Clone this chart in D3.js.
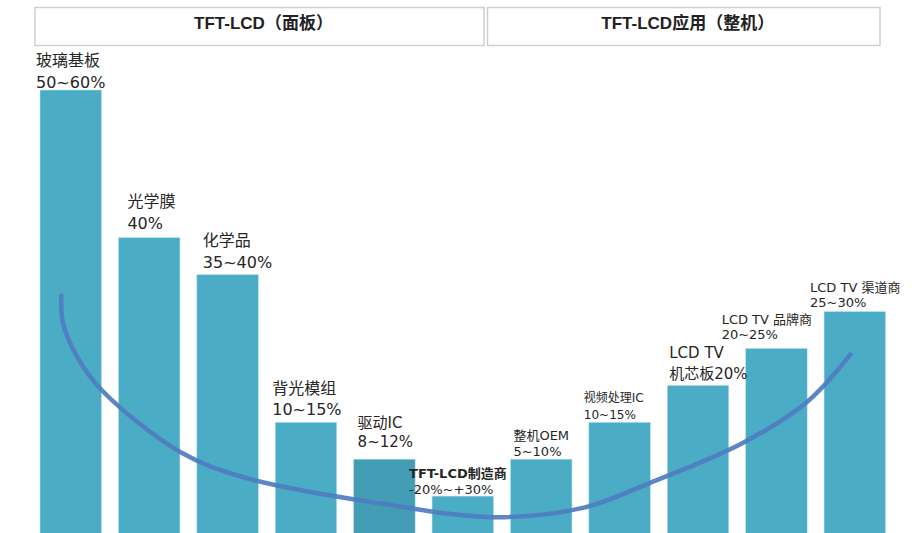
<!DOCTYPE html>
<html>
<head>
<meta charset="utf-8">
<script src="https://cdn.jsdelivr.net/npm/d3@7"></script>
<style>
    body { margin: 0; background: #fff; }
    svg { display: block; }
    .lbl { font-family: "DejaVu Sans", "Noto Sans CJK SC", sans-serif; fill: #262626; }
    .hdr { font-family: "Liberation Sans Narrow", "Liberation Sans", "Noto Sans CJK SC", sans-serif; font-weight: bold; fill: #222; }
</style>
</head>
<body>
<div id="grafico"></div>
<script>
// elos da cadeia (categorias)
var categorias = ["玻璃基板", "光学膜", "化学品", "背光模组", "驱动IC", "TFT-LCD制造商",
    "整机OEM", "视频处理IC", "LCD TV", "LCD TV 品牌商", "LCD TV 渠道商"];
// segunda linha do rótulo
var margens = ["50~60%", "40%", "35~40%", "10~15%", "8~12%", "-20%~+30%",
    "5~10%", "10~15%", "机芯板20%", "20~25%", "25~30%"];
// altura relativa das barras
var valores = [12, 8, 7, 3, 2, 1, 2, 3, 4, 5, 6];
// curva sorriso: posição em índice de barra e valor
var curvaIdx = [-0.12, -0.10, 0.08, 0.39, 1.39, 2.24, 3.98, 5.38, 6.53, 7.39, 8.57, 9.39, 9.96];
var curvaVal = [6.48, 5.69, 4.78, 3.88, 2.20, 1.49, 0.79, 0.43, 0.68, 1.36, 2.44, 3.55, 4.88];
var cabecalhos = ["TFT-LCD（面板）", "TFT-LCD应用（整机）"];

var width = 922, height = 533;

// ajustes de cada rótulo: dx, baseline linha1 e linha2 (relativos ao topo da barra), tamanho, negrito
var estiloRotulo = [
    { dx: -4, y1: -24, y2: -2, size: 16 },
    { dx: 9, y1: -31, y2: -9, size: 16 },
    { dx: 6, y1: -29, y2: -7, size: 16 },
    { dx: -3, y1: -28, y2: -7, size: 16 },
    { dx: 4, y1: -31, y2: -12, size: 15 },
    { dx: -23, y1: -18, y2: -2, size: 13, bold: true },
    { dx: 3, y1: -19, y2: -3, size: 13 },
    { dx: -5, y1: -20, y2: -3, size: 12 },
    { dx: 2, y1: -27, y2: -6, size: 15 },
    { dx: -24, y1: -24, y2: -9, size: 13 },
    { dx: -14, y1: -20, y2: -5, size: 13 }
];

var svg = d3.select("#grafico").append("svg").attr("width", width).attr("height", height);

var x = d3.scaleBand().domain(d3.range(categorias.length)).range([40, 885.6]).paddingInner(0.215).paddingOuter(0);
var y = d3.scaleLinear().domain([0, 12]).range([height, 90]);
var xc = function(i) { return x(0) + x.bandwidth() / 2 + i * x.step(); };

/* CABEÇALHOS */
var caixas = [[35, 484], [487.5, 880]];
caixas.forEach(function(c, i) {
    svg.append("rect").attr("x", c[0]).attr("y", 7.5).attr("width", c[1] - c[0]).attr("height", 38)
        .attr("fill", "#fff").attr("stroke", "#cfcfcf").attr("stroke-width", 1.5);
    svg.append("text").attr("class", "hdr").attr("x", (c[0] + c[1]) / 2 + 4).attr("y", 25)
        .attr("text-anchor", "middle").attr("dominant-baseline", "middle")
        .style("font-size", "17px").text(cabecalhos[i]);
});

/* BARRAS */
svg.selectAll("rect.bar").data(valores).enter().append("rect")
    .attr("class", "bar")
    .attr("x", function(d, i) { return x(i); })
    .attr("y", function(d) { return y(d); })
    .attr("width", x.bandwidth())
    .attr("height", function(d) { return height - y(d) + 2; })
    .attr("fill", function(d, i) { return i == 4 ? "#429db5" : "#4bacc6"; })
    .attr("stroke", "#bfe3ee").attr("stroke-width", 0.6);

/* CURVA */
var pontos = curvaIdx.map(function(v, i) { return [xc(v), y(curvaVal[i])]; });
svg.append("path").datum(pontos)
    .attr("d", d3.line().curve(d3.curveCatmullRom.alpha(0.5)))
    .attr("fill", "none").attr("stroke", "#4f7cc0").attr("stroke-opacity", 0.92)
    .attr("stroke-width", 4.5);

/* RÓTULOS */
valores.forEach(function(d, i) {
    var s = estiloRotulo[i];
    var top = y(d);
    var g = svg.append("g").attr("class", "lbl").style("font-size", s.size + "px");
    g.append("text").attr("x", x(i) + s.dx).attr("y", top + s.y1)
        .style("font-weight", s.bold ? "bold" : "normal").text(categorias[i]);
    g.append("text").attr("x", x(i) + s.dx).attr("y", top + s.y2).text(margens[i]);
});
</script>
</body>
</html>
